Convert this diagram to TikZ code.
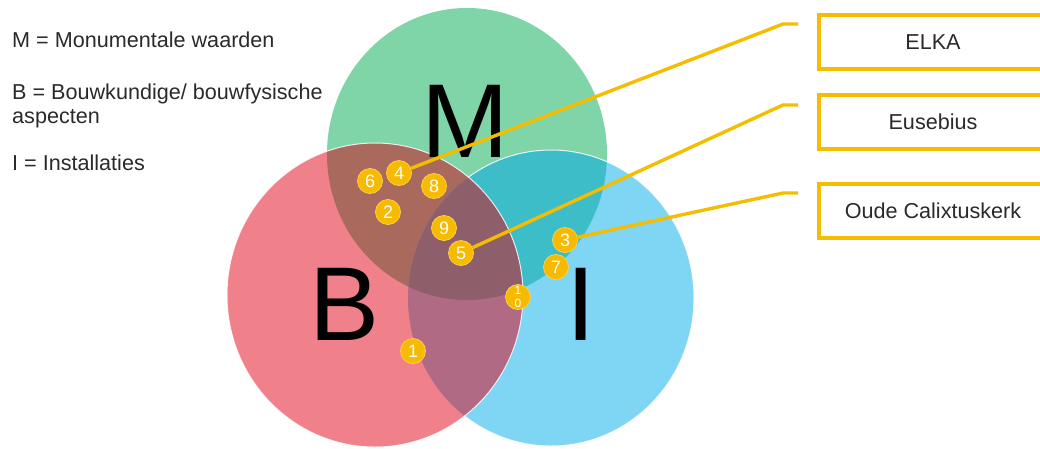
\documentclass[tikz,border=0pt]{standalone}
\usepackage{fontspec}
\setmainfont{Liberation Sans}
\definecolor{colM}{HTML}{7FD4A8}
\definecolor{colB}{HTML}{F08089}
\definecolor{colI}{HTML}{7FD5F4}
\definecolor{colMB}{HTML}{A9695C}
\definecolor{colMI}{HTML}{3DBDC7}
\definecolor{colBI}{HTML}{B06A83}
\definecolor{colMBI}{HTML}{8E5E6B}
\definecolor{badgeY}{HTML}{F6BB00}
\definecolor{badgeL}{HTML}{FFD04A}
\definecolor{lineY}{HTML}{F5BD00}
\definecolor{txt}{HTML}{2A2A2A}
\def\shapeMM{(467,154) ellipse [x radius=140pt, y radius=146pt]}
\def\shapeBB{(375,295) ellipse [x radius=148pt, y radius=152pt]}
\def\shapeII{(551,298) ellipse [x radius=143pt, y radius=148pt]}
\begin{document}
\begin{tikzpicture}[x=1pt,y=-1pt,
  legend/.style={anchor=base west, inner sep=0pt, text=txt, font=\fontsize{21.6}{25}\selectfont},
  bigletter/.style={anchor=base, inner sep=0pt, text=black, font=\fontsize{105}{105}\selectfont},
  badge/.style={circle, fill=badgeY, draw=badgeL, line width=0.8pt, minimum size=25pt, inner sep=0pt, text=white, font=\fontsize{18}{18}\selectfont},
  smallbadge/.style={badge, align=center, font=\fontsize{12}{12.5}\selectfont},
  namebox/.style={draw=lineY, line width=3.6pt, fill=white, minimum width=228pt, minimum height=54pt, inner sep=0pt, text=txt, font=\fontsize{21.6}{25}\selectfont},
  conn/.style={draw=lineY, line width=3.4pt},
  rim/.style={draw=white, line width=1pt, opacity=0.85}]
\useasboundingbox (0,0) rectangle (1040,448);
% circle fills
\fill[colM] \shapeMM;
\fill[colI] \shapeII;
\fill[colB] \shapeBB;
\begin{scope}
  \clip \shapeMM;
  \fill[colMB] \shapeBB;
  \fill[colMI] \shapeII;
\end{scope}
\begin{scope}
  \clip \shapeBB;
  \fill[colBI] \shapeII;
\end{scope}
\begin{scope}
  \clip \shapeMM;
  \clip \shapeBB;
  \fill[colMBI] \shapeII;
\end{scope}
% thin white rims
\begin{scope}[even odd rule]
  \clip (-10,-10) rectangle (1050,460) \shapeBB;
  \path[rim] \shapeII;
\end{scope}
\path[rim] \shapeBB;
% legend
\node[legend] (lgM) at (12,47) {M = Monumentale waarden};
\node[legend] (lgB1) at (12,99) {B = Bouwkundige/ bouwfysische};
\node[legend] (lgB2) at (12,123) {aspecten};
\node[legend] (lgI) at (12,170) {I = Installaties};
% big letters
\node[bigletter] (LM) at (465,157) {M};
\node[bigletter] (LB) at (345,340) {B};
\node[bigletter] (LI) at (581,340) {I};
% boxes
\node[namebox] (elka) at (933,42) {ELKA};
\node[namebox] (euse) at (933,122) {Eusebius};
\node[namebox] (oude) at (933,211) {Oude Calixtuskerk};
% badges
\node[badge] (b6) at (370,181) {6};
\node[badge] (b4) at (399,173) {4};
\node[badge] (b8) at (434,186) {8};
\node[badge] (b2) at (388,212) {2};
\node[badge] (b9) at (444,228) {9};
\node[badge] (b5) at (461,253) {5};
\node[badge] (b3) at (565,240) {3};
\node[badge] (b7) at (556,267) {7};
\node[smallbadge] (b10) at (518,297) {1\\0};
\node[badge] (b1) at (413,351) {1};
% connectors
\coordinate (k4) at (783,24);
\coordinate (e4) at (798,24);
\coordinate (k5) at (783,105);
\coordinate (e5) at (798,105);
\coordinate (k3) at (783,193);
\coordinate (e3) at (798,193);
\draw[conn] (b4) -- (k4) -- (e4);
\draw[conn] (b5) -- (k5) -- (e5);
\draw[conn] (b3) -- (k3) -- (e3);
\end{tikzpicture}
\end{document}
